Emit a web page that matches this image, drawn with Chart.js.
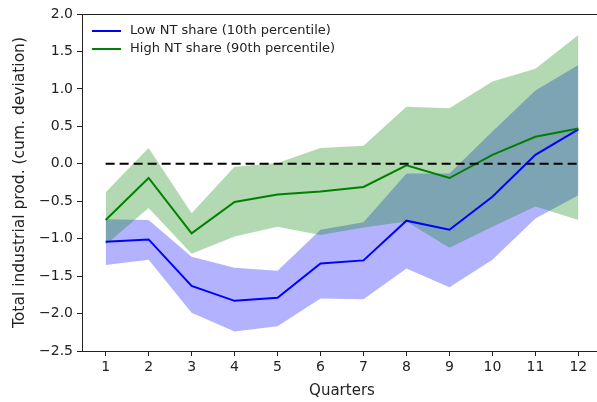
<!DOCTYPE html>
<html lang="en">
<head>
    <meta charset="UTF-8">
    <title>Total industrial production by NT share</title>
    <script src="https://cdn.jsdelivr.net/npm/chart.js"></script>
    <style>
        html, body {
            margin: 0;
            padding: 0;
            overflow: hidden;
            background: #fff;
        }
        canvas {
            display: block;
        }
    </style>
</head>
<body>
    <canvas id="chart" width="610" height="402"></canvas>

    <script>
        // quarters after the shock
        const quarters = [1, 2, 3, 4, 5, 6, 7, 8, 9, 10, 11, 12];

        // low NT share (10th percentile): point estimate and band
        const lowMean  = [-1.04, -1.01, -1.63, -1.83, -1.79, -1.33, -1.29, -0.76, -0.88, -0.44, 0.12, 0.46];
        const lowUpper = [-0.74, -0.75, -1.24, -1.39, -1.43, -0.88, -0.78, -0.13, -0.13, 0.43, 0.98, 1.32];
        const lowLower = [-1.35, -1.28, -1.99, -2.24, -2.17, -1.80, -1.81, -1.40, -1.65, -1.28, -0.73, -0.42];

        // high NT share (90th percentile)
        const highMean  = [-0.75, -0.19, -0.93, -0.51, -0.41, -0.37, -0.31, -0.02, -0.19, 0.12, 0.36, 0.47];
        const highUpper = [-0.38, 0.21, -0.66, -0.04, 0.01, 0.21, 0.24, 0.76, 0.74, 1.10, 1.27, 1.72];
        const highLower = [-1.08, -0.59, -1.20, -0.97, -0.84, -0.95, -0.85, -0.77, -1.12, -0.84, -0.57, -0.75];

        const zeroLine = quarters.map(() => 0);

        const yTicks = [-2.5, -2.0, -1.5, -1.0, -0.5, 0.0, 0.5, 1.0, 1.5, 2.0];

        const pts = arr => quarters.map((q, i) => ({ x: q, y: arr[i] }));

        const textColor = "#222";
        const font = "DejaVu Sans";

        const line = (label, arr, color, extra) => Object.assign({
            label: label,
            data: pts(arr),
            borderColor: color,
            backgroundColor: color,
            borderWidth: 2,
            pointRadius: 0,
            tension: 0,
            fill: false
        }, extra || {});

        const band = (arr, fillColor, fill) => ({
            label: "",
            data: pts(arr),
            borderWidth: 0,
            borderColor: "rgba(0,0,0,0)",
            backgroundColor: fillColor,
            pointRadius: 0,
            tension: 0,
            fill: fill
        });

        // legend drawn inside the plot, top left
        const insideLegend = {
            id: "insideLegend",
            afterDraw(chart) {
                const ctx = chart.ctx;
                const items = chart.data.datasets.filter(d => d.legendRank)
                    .sort((a, b) => a.legendRank - b.legendRank);
                ctx.save();
                ctx.font = "13px '" + font + "'";
                ctx.textBaseline = "middle";
                items.forEach((d, i) => {
                    const y = 31 + i * 18;
                    ctx.strokeStyle = d.borderColor;
                    ctx.lineWidth = 2;
                    ctx.beginPath();
                    ctx.moveTo(92, y);
                    ctx.lineTo(121, y);
                    ctx.stroke();
                    ctx.fillStyle = textColor;
                    ctx.fillText(d.label, 130, y);
                });
                ctx.restore();
            }
        };

        // matplotlib style box around the axes
        const frame = {
            id: "frame",
            afterDraw(chart) {
                const a = chart.chartArea;
                const ctx = chart.ctx;
                ctx.save();
                ctx.strokeStyle = "#222";
                ctx.lineWidth = 1;
                ctx.strokeRect(Math.round(a.left) + 0.5, Math.round(a.top) + 0.5,
                    Math.round(a.right - a.left), Math.round(a.bottom - a.top));
                ctx.restore();
            }
        };

        new Chart(document.getElementById("chart"), {
            type: "line",
            data: {
                datasets: [
                    line("", zeroLine, "#000", { borderDash: [9, 5], borderWidth: 2 }),
                    line("High NT share (90th percentile)", highMean, "#008000", { legendRank: 2 }),
                    line("Low NT share (10th percentile)", lowMean, "#0000ff", { legendRank: 1 }),
                    band(highUpper, "rgba(0,128,0,0.3)", "+1"),
                    band(highLower, "rgba(0,128,0,0.3)", false),
                    band(lowUpper, "rgba(0,0,255,0.3)", "+1"),
                    band(lowLower, "rgba(0,0,255,0.3)", false)
                ]
            },
            options: {
                responsive: false,
                animation: false,
                events: [],
                layout: { padding: { left: 0, top: 14, right: 8, bottom: 0 } },
                plugins: {
                    legend: { display: false },
                    tooltip: { enabled: false }
                },
                scales: {
                    x: {
                        type: "linear",
                        min: 0.45,
                        max: 12.55,
                        afterBuildTicks: s => { s.ticks = quarters.map(v => ({ value: v })); },
                        afterFit: s => { s.height = 51; },
                        grid: { drawOnChartArea: false, drawTicks: true, tickLength: 5, color: "#222" },
                        border: { display: true, color: "#222" },
                        ticks: {
                            color: textColor,
                            font: { family: font, size: 14 },
                            padding: 3,
                            maxRotation: 0,
                            callback: v => String(v)
                        },
                        title: {
                            display: true,
                            text: "Quarters",
                            color: textColor,
                            font: { family: font, size: 15 },
                            padding: { top: 0, bottom: 2 }
                        }
                    },
                    y: {
                        min: -2.5,
                        max: 2.0,
                        afterBuildTicks: s => { s.ticks = yTicks.map(v => ({ value: v })); },
                        afterFit: s => { s.width = 82; },
                        grid: { drawOnChartArea: false, drawTicks: true, tickLength: 5, color: "#222" },
                        border: { display: true, color: "#222" },
                        ticks: {
                            color: textColor,
                            font: { family: font, size: 14 },
                            padding: 4,
                            callback: v => v.toFixed(1).replace("-", "\u2212")
                        },
                        title: {
                            display: true,
                            text: "Total industrial prod. (cum. deviation)",
                            color: textColor,
                            font: { family: font, size: 15.5 },
                            padding: { top: 11, bottom: 0 }
                        }
                    }
                }
            },
            plugins: [insideLegend, frame]
        });
    </script>
</body>
</html>
